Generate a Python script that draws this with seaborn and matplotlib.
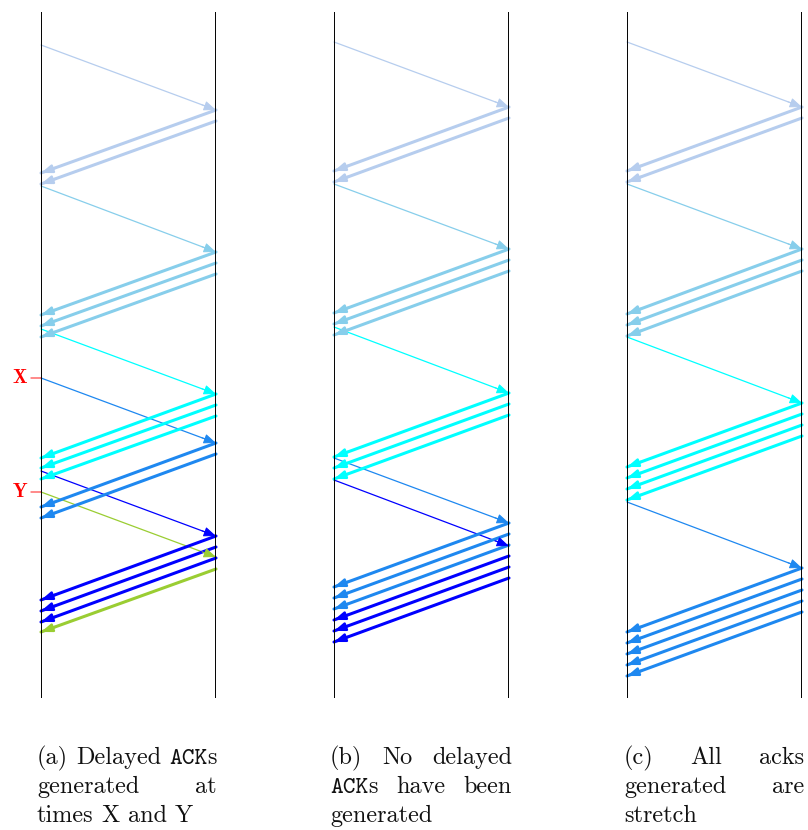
import matplotlib
matplotlib.use("Agg")
import numpy as np
import pandas as pd
import seaborn as sns
import matplotlib.pyplot as plt

sns.set_theme(style="white")
plt.rcParams["font.family"] = ["cmr10", "DejaVu Serif"]
plt.rcParams["axes.unicode_minus"] = False

W, H, DPI = 808, 830, 100

# Colours of the successive windows of segments
PALETTE = {"ltblue": "#b6cdee", "sky": "#87ceeb", "cyan": "#00ffff",
           "dodger": "#1e88f0", "blue": "#0000ff", "green": "#9acd32"}

# ---- (a) delayed ACKs generated at X and Y -------------------------------
a_kind = ["data", "ack", "ack", "data", "ack", "ack", "ack", "data", "data",
          "ack", "ack", "ack", "data", "data", "ack", "ack", "ack", "ack",
          "ack", "ack"]
a_flow = ["ltblue", "ltblue", "ltblue", "sky", "sky", "sky", "sky", "cyan",
          "dodger", "cyan", "cyan", "cyan", "blue", "green", "dodger",
          "dodger", "blue", "blue", "blue", "green"]
a_t0 = [45, 110, 121, 186, 252, 263, 274, 329, 378, 394, 405, 416, 471, 492,
        443, 454, 536, 547, 558, 569]
a_t1 = [110, 173, 184, 252, 315, 326, 337, 394, 443, 458, 468, 479, 536, 557,
        507, 518, 600, 611, 622, 632]
a_mark_label = ["X", "Y"]
a_mark_t = [378, 492]

# ---- (b) no delayed ACKs -------------------------------------------------
b_kind = ["data", "ack", "ack", "data", "ack", "ack", "ack", "data", "ack",
          "ack", "ack", "data", "data", "ack", "ack", "ack", "ack", "ack",
          "ack"]
b_flow = ["ltblue", "ltblue", "ltblue", "sky", "sky", "sky", "sky", "cyan",
          "cyan", "cyan", "cyan", "dodger", "blue", "dodger", "dodger",
          "dodger", "blue", "blue", "blue"]
b_t0 = [42, 107, 118, 184, 249, 260, 271, 327, 393, 404, 415, 458, 480, 523,
        534, 545, 556, 567, 578]
b_t1 = [107, 171, 182, 249, 313, 324, 335, 393, 457, 468, 479, 523, 546, 587,
        598, 609, 620, 631, 642]

# ---- (c) stretch ACKs only -----------------------------------------------
c_kind = ["data", "ack", "ack", "data", "ack", "ack", "ack", "data", "ack",
          "ack", "ack", "ack", "data", "ack", "ack", "ack", "ack", "ack"]
c_flow = ["ltblue"] * 3 + ["sky"] * 4 + ["cyan"] * 5 + ["dodger"] * 6
c_t0 = [42, 107, 118, 184, 249, 260, 271, 337, 403, 414, 425, 436, 502, 568,
        579, 590, 601, 612]
c_t1 = [107, 171, 182, 249, 314, 325, 336, 403, 467, 478, 489, 500, 568, 632,
        643, 654, 665, 676]

# Captions; |...| marks typewriter text
a_caption = ["(a) Delayed |ACK|s", "generated at", "times X and Y"]
b_caption = ["(b) No delayed", "|ACK|s have been", "generated"]
c_caption = ["(c) All acks", "generated are", "stretch"]

T_TOP, T_BOTTOM = 12, 698          # time span shown on the host timelines
LINE_W = {"data": 0.9, "ack": 2.2}
HEAD = {"data": "-|>,head_length=0.75,head_width=0.3",
        "ack": "-|>,head_length=0.65,head_width=0.24"}

fig = plt.figure(figsize=(W / DPI, H / DPI), dpi=DPI)
fig.patch.set_facecolor("white")


def ladder(left_px, right_px, kind, flow, t0, t1, marks=None):
    ax = fig.add_axes([left_px / W, (H - T_BOTTOM) / H,
                       (right_px - left_px) / W, (T_BOTTOM - T_TOP) / H])

    df = pd.DataFrame({"kind": kind, "flow": flow, "t0": t0, "t1": t1})
    df["id"] = np.arange(len(df))
    df["x0"] = np.where(df["kind"] == "data", 0.0, 1.0)
    df["x1"] = 1.0 - df["x0"]

    # segment shafts through seaborn, one unit per packet
    long = pd.concat([
        df[["id", "kind", "flow", "x0", "t0"]].rename(columns={"x0": "x", "t0": "t"}),
        df[["id", "kind", "flow", "x1", "t1"]].rename(columns={"x1": "x", "t1": "t"}),
    ])
    for k in ("data", "ack"):
        sub = long[long["kind"] == k]
        sns.lineplot(data=sub, x="x", y="t", hue="flow", palette=PALETTE,
                     units="id", estimator=None, sort=False, legend=False,
                     linewidth=LINE_W[k], ax=ax, clip_on=False)
    ax.set_xlim(0, 1)
    ax.set_ylim(T_BOTTOM, T_TOP)
    ax.set_axis_off()

    # arrow heads at the receiving end
    for _, r in df.iterrows():
        xs = r["x1"] + 0.08 * (r["x0"] - r["x1"])
        ts = r["t1"] + 0.08 * (r["t0"] - r["t1"])
        ax.annotate("", xy=(r["x1"], r["t1"]), xytext=(xs, ts),
                    arrowprops=dict(arrowstyle=HEAD[r["kind"]],
                                    mutation_scale=10,
                                    color=PALETTE[r["flow"]],
                                    lw=LINE_W[r["kind"]] * 0.8,
                                    shrinkA=0, shrinkB=0),
                    annotation_clip=False)

    # host timelines
    for x in (0, 1):
        ax.axvline(x, color="black", lw=1.4, zorder=5)

    if marks:
        for lab, t in zip(*marks):
            ax.annotate("", xy=(0, t), xytext=(-10, 0),
                        textcoords="offset pixels",
                        arrowprops=dict(arrowstyle="-", color="#ff5a5a",
                                        lw=1.0, shrinkA=0, shrinkB=0),
                        annotation_clip=False)
            ax.annotate(lab, xy=(0, t), xytext=(-21, 0),
                        textcoords="offset pixels", ha="center",
                        va="center", color="red", family=["cmb10"],
                        fontsize=14, annotation_clip=False)
    return ax


ladder(41, 216, a_kind, a_flow, a_t0, a_t1, (a_mark_label, a_mark_t))
ladder(334, 509, b_kind, b_flow, b_t0, b_t1)
ladder(627, 802, c_kind, c_flow, c_t0, c_t1)

renderer = fig.canvas.get_renderer()
CAP_SIZE = 17.5


def caption(lines, x_left, x_right, y_base, step, size=CAP_SIZE):
    space = 0.333 * size * DPI / 72
    for i, line in enumerate(lines):
        words = []
        for w in line.split(" "):
            segs = []
            for k, s in enumerate(w.split("|")):
                if not s:
                    continue
                fam = ["cmtt10"] if k % 2 else ["cmr10"]
                t = fig.text(0, 0, s, family=fam, fontsize=size,
                             ha="left", va="baseline", color="#111111")
                segs.append((t, t.get_window_extent(renderer).width))
            words.append(segs)
        wsum = sum(wd for segs in words for _, wd in segs)
        last = i == len(lines) - 1
        gap = space if (last or len(words) < 2) else \
            (x_right - x_left - wsum) / (len(words) - 1)
        x = x_left
        yb = 1 - (y_base + i * step) / H
        for segs in words:
            for t, wd in segs:
                t.set_position((x / W, yb))
                x += wd
            x += gap


caption(a_caption, 37, 217, 764, 29)
caption(b_caption, 330, 512, 764, 29)
caption(c_caption, 624, 804, 764, 29)

fig.savefig("out.png", dpi=DPI, facecolor="white")
